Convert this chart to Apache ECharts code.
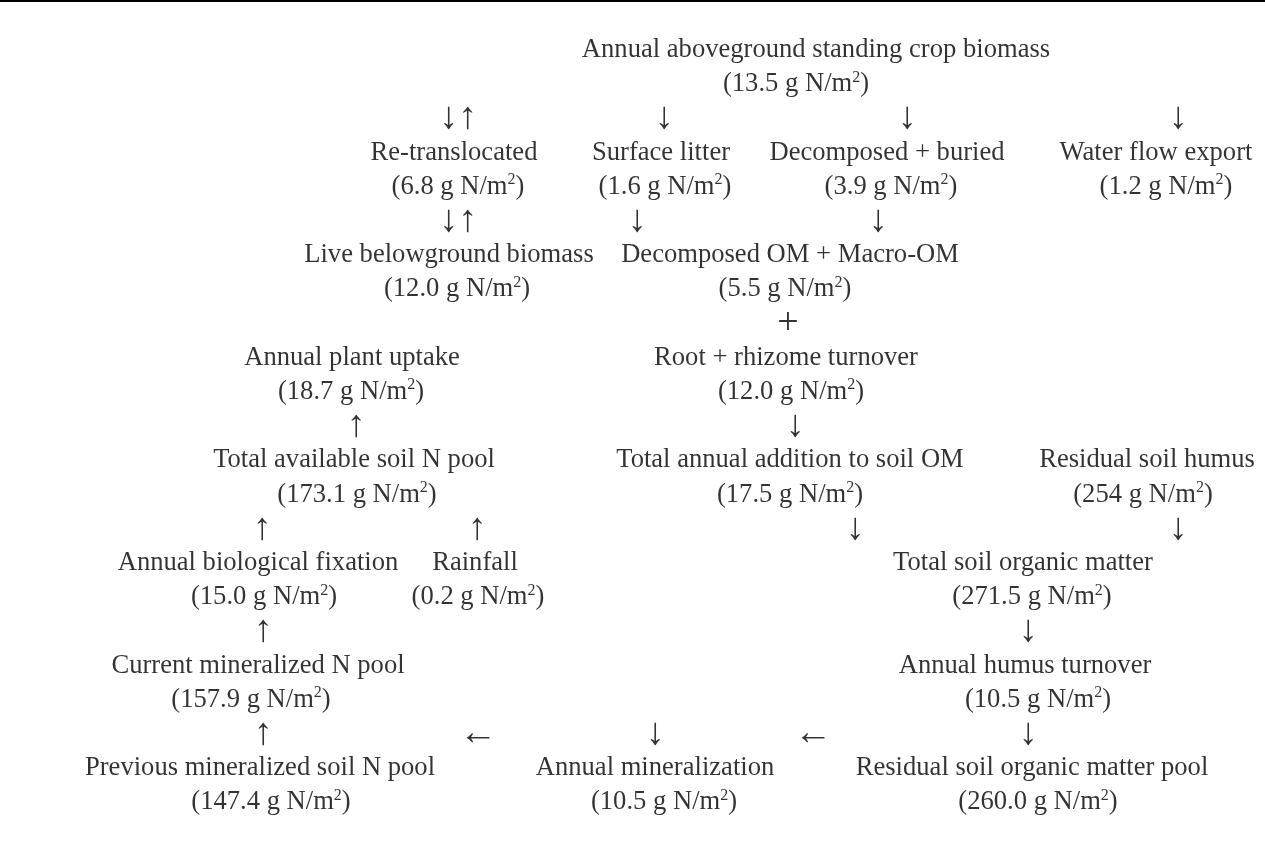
<!DOCTYPE html>
<html><head><meta charset="utf-8">
<script src="https://cdn.jsdelivr.net/npm/echarts/dist/echarts.min.js"></script>
<style>
html,body{margin:0;padding:0;background:#fff;}
#wrap{position:relative;width:1265px;height:846px;}
#chart{width:1265px;height:846px;}
#rule{position:absolute;left:0;top:0;width:1265px;height:2px;background:#000;}
</style>
</head><body>
<div id="wrap"><div id="chart"></div><div id="rule"></div></div>
<script>
// ---- data ----
const nodeNames = [
  'Annual aboveground standing crop biomass',
  'Re-translocated',
  'Surface litter',
  'Decomposed + buried',
  'Water flow export',
  'Live belowground biomass',
  'Decomposed OM + Macro-OM',
  'Root + rhizome turnover',
  'Annual plant uptake',
  'Total available soil N pool',
  'Total annual addition to soil OM',
  'Residual soil humus',
  'Annual biological fixation',
  'Rainfall',
  'Total soil organic matter',
  'Current mineralized N pool',
  'Annual humus turnover',
  'Previous mineralized soil N pool',
  'Annual mineralization',
  'Residual soil organic matter pool'
];
const nodeValues = ['13.5','6.8','1.6','3.9','1.2','12.0','5.5','12.0','18.7','173.1','17.5','254','15.0','0.2','271.5','157.9','10.5','147.4','10.5','260.0'];
const valueUnit = 'g N/m';
const unitPower = '2';
const arrowGlyphs = ['↓↑','↓','↓','↓', '↓↑','↓','↓', '+', '↑','↓', '↑','↑','↓','↓', '↑','↓', '↑','←','↓','←','↓'];

// ---- layout ----
const row3Y = 118.5, rowPitch = 34.2;
const nodeTitleRow = [1, 4,4,4,4, 7,7, 10,10, 13,13,13, 16,16,16, 19,19, 22,22,22];
const nodeValueRow = [2, 5,5,5,5, 8,8, 11,11, 14,14,14, 17,17,17, 20,20, 23,23,23];
const nodeTitleX = [816, 454,661,887,1156, 449,790, 786,352, 354,790,1147, 258,475,1023, 258,1025, 260,655,1032];
const nodeValueX = [796, 458,665,891,1166, 457,785, 791,351, 357,790,1143, 264,478,1032, 251,1038, 271,664,1038];
const arrowRow = [3,3,3,3, 6,6,6, 9, 12,12, 15,15,15,15, 18,18, 21,21,21,21,21];
const arrowX   = [458,664,907,1178, 458,637,878, 788, 356,795, 262,477,855,1178, 263,1028, 263,478,655,813,1028];

const FONT = 'Liberation Serif, Times New Roman, serif';
const rowY = r => row3Y + (r - 3) * rowPitch;
const chart = echarts.init(document.getElementById('chart'));
const titleData = nodeNames.map((n, i) => ({ value: [nodeTitleX[i], rowY(nodeTitleRow[i])], name: n }));
const valueData = nodeValues.map((v, i) => ({ value: [nodeValueX[i], rowY(nodeValueRow[i])], name: v }));
const arrowData = arrowGlyphs.map((g, i) => ({ value: [arrowX[i], rowY(arrowRow[i])], name: g }));

const baseLabel = { show: true, position: 'inside', align: 'center', verticalAlign: 'middle', color: '#000' };
chart.setOption({
  animation: false,
  backgroundColor: '#fff',
  grid: { left: 0, right: 0, top: 0, bottom: 0 },
  xAxis: { type: 'value', min: 0, max: 1265, show: false },
  yAxis: { type: 'value', min: 0, max: 846, inverse: true, show: false },
  series: [
    {
      type: 'scatter', symbolSize: 0, data: titleData,
      label: Object.assign({}, baseLabel, {
        formatter: p => p.data.name,
        fontFamily: FONT, fontSize: 26.6, color: '#000'
      })
    },
    {
      type: 'scatter', symbolSize: 0, data: valueData,
      label: Object.assign({}, baseLabel, {
        formatter: p => '{v|(' + p.data.name + ' ' + valueUnit + '}{s|' + unitPower + '}{v|)}',
        rich: {
          v: { fontFamily: FONT, fontSize: 26.6, lineHeight: 30, color: '#000' },
          s: { fontFamily: FONT, fontSize: 16, lineHeight: 21, verticalAlign: 'top', color: '#000' }
        }
      })
    },
    {
      type: 'scatter', symbolSize: 0, data: arrowData,
      label: Object.assign({}, baseLabel, {
        formatter: p => p.data.name,
        fontFamily: FONT, fontSize: 38, color: '#000'
      })
    }
  ]
});
</script>
</body></html>
